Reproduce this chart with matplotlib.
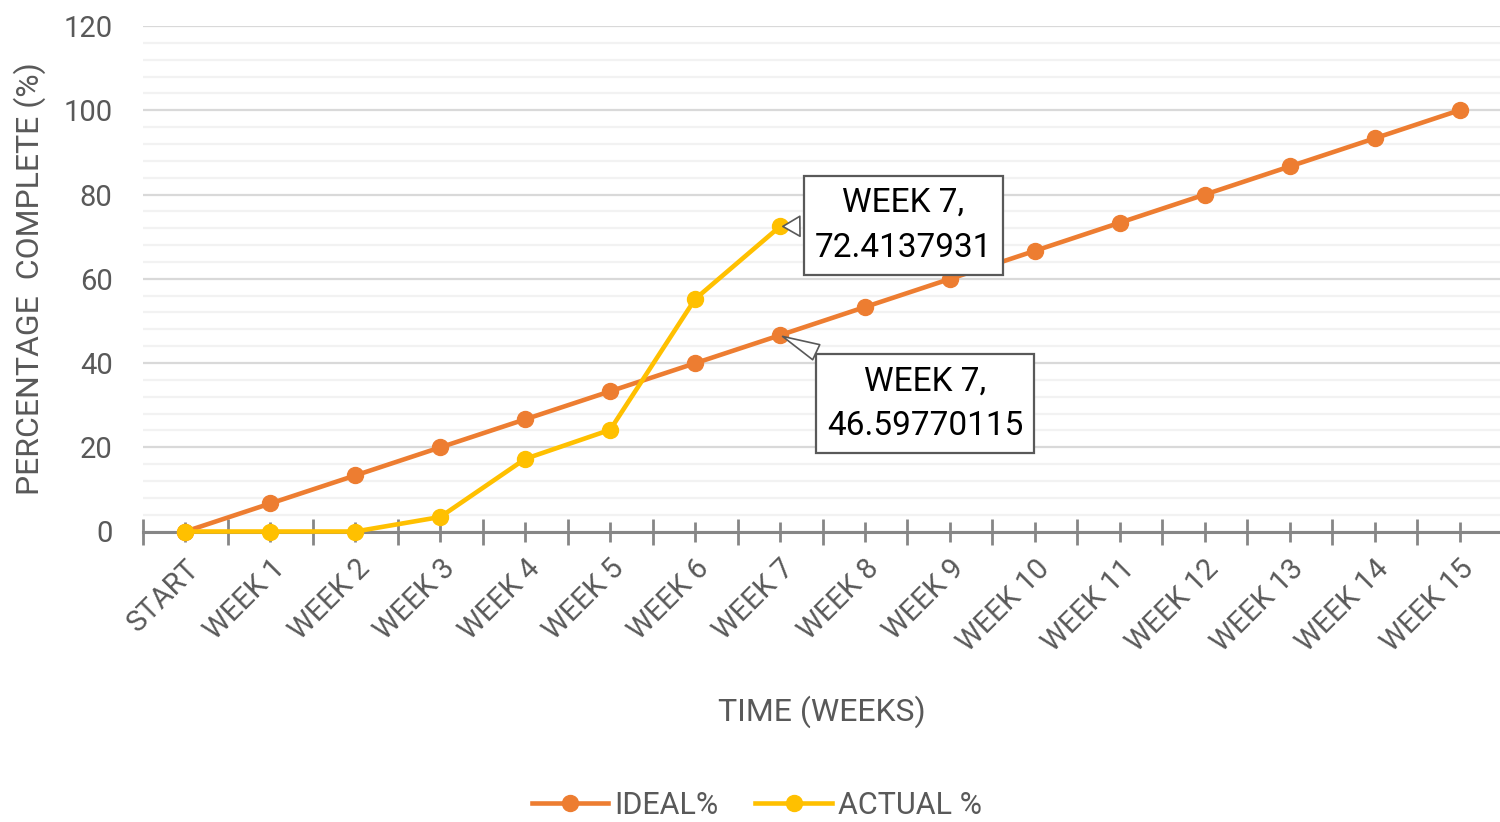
import matplotlib
matplotlib.use("Agg")
import matplotlib.pyplot as plt
from matplotlib import font_manager
from matplotlib.ticker import MultipleLocator, FixedLocator, NullFormatter

# Data
weeks = ["START", "WEEK 1", "WEEK 2", "WEEK 3", "WEEK 4", "WEEK 5", "WEEK 6", "WEEK 7",
         "WEEK 8", "WEEK 9", "WEEK 10", "WEEK 11", "WEEK 12", "WEEK 13", "WEEK 14", "WEEK 15"]
ideal = [0, 6.66, 13.31, 19.97, 26.63, 33.28, 39.94, 46.59770115,
         53.28, 59.95, 66.62, 73.30, 79.97, 86.65, 93.32, 100]
actual = [0, 0, 0, 3.448, 17.241, 24.138, 55.172, 72.4137931]


# pick first installed font
def pick_font(names):
    for n in names:
        try:
            font_manager.findfont(n, fallback_to_default=False)
            return n
        except Exception:
            pass
    return "DejaVu Sans"


FONT = pick_font(["Liberation Sans Narrow", "Roboto", "Liberation Sans"])
plt.rcParams['font.family'] = [FONT, 'DejaVu Sans']

GREY = "#595959"
ORANGE = "#ED7D31"
YELLOW = "#FFC000"

fig = plt.figure(figsize=(15, 8.22), dpi=100)
ax = fig.add_axes([143 / 1500, 1 - 531.5 / 822, 1359 / 1500, 505.5 / 822])

x = list(range(len(weeks)))
ax.plot(x, ideal, color=ORANGE, lw=3.3, marker="o", ms=11.5, label="IDEAL%", clip_on=False, zorder=4)
ax.plot(x[:len(actual)], actual, color=YELLOW, lw=3.3, marker="o", ms=11.5, label="ACTUAL %",
        clip_on=False, zorder=5)

ax.set_xlim(-0.5, len(weeks) - 0.5)
ax.set_ylim(0, 120)

# gridlines
ax.yaxis.set_major_locator(MultipleLocator(20))
ax.yaxis.set_minor_locator(MultipleLocator(4))
ax.grid(axis="y", which="major", color="#d9d9d9", lw=1.6)
ax.grid(axis="y", which="minor", color="#f2f2f2", lw=1.6)
ax.set_axisbelow(True)

for s in ["top", "right", "left"]:
    ax.spines[s].set_visible(False)
ax.spines["bottom"].set_color("#868686")
ax.spines["bottom"].set_linewidth(2.2)
ax.spines["bottom"].set_zorder(3)

ax.tick_params(axis="y", which="both", length=0, pad=22, labelsize=21, labelcolor=GREY)

# category labels at centres, boundaries as longer ticks
ax.set_xticks(x)
ax.set_xticklabels(weeks, rotation=45, ha="right", va="top", rotation_mode="anchor")
ax.xaxis.set_minor_locator(FixedLocator([i - 0.5 for i in range(len(weeks) + 1)]))
ax.xaxis.set_minor_formatter(NullFormatter())
ax.tick_params(axis="x", which="major", direction="inout", length=15, width=2,
               color="#868686", labelsize=21, labelcolor=GREY, pad=9)
ax.tick_params(axis="x", which="minor", direction="inout", length=19, width=2, color="#868686")

# data callouts
box = dict(boxstyle="square,pad=0.33", fc="white", ec=GREY, lw=1.6)
ax.annotate("WEEK 7,\n72.4137931", xy=(7, actual[7]), xytext=(8.45, 72.7),
            ha="center", va="center", fontsize=24, color="black", linespacing=1.5,
            bbox=box, zorder=6,
            arrowprops=dict(arrowstyle="wedge,tail_width=0.6,shrink_factor=0.5",
                            fc="white", ec=GREY, lw=1.2))
ax.annotate("WEEK 7,\n46.59770115", xy=(7, ideal[7]), xytext=(8.71, 30.4),
            ha="center", va="center", fontsize=24, color="black", linespacing=1.5,
            bbox=box, zorder=6,
            arrowprops=dict(arrowstyle="wedge,tail_width=0.5,shrink_factor=0.5",
                            fc="white", ec=GREY, lw=1.2))

fig.text(30 / 1500, 1 - 279 / 822, "PERCENTAGE  COMPLETE (%)", rotation=90,
         ha="center", va="center", fontsize=23, color=GREY)
fig.text(822 / 1500, 1 - 712 / 822, "TIME (WEEKS)", ha="center", va="center",
         fontsize=23, color=GREY)

fig.legend(loc="center", bbox_to_anchor=(757 / 1500, 1 - 805 / 822), ncol=2, frameon=False,
           fontsize=22, labelcolor=GREY, handlelength=2.5, handletextpad=0.2,
           columnspacing=1.2)

fig.savefig("out.png", dpi=100)
